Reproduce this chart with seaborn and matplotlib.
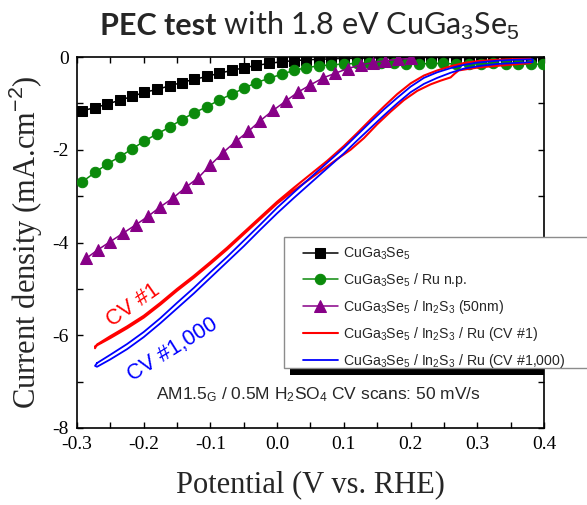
import matplotlib
matplotlib.use("Agg")
import matplotlib.pyplot as plt
import seaborn as sns
from matplotlib.patches import Rectangle
from matplotlib.ticker import MultipleLocator

# ---- data (current density in mA/cm^2 vs potential in V vs. RHE) ----
potential = [-0.292, -0.273, -0.255, -0.236, -0.217, -0.199, -0.180, -0.161,
             -0.143, -0.124, -0.105, -0.087, -0.068, -0.049, -0.031, -0.012,
             0.007, 0.025, 0.044, 0.063, 0.081, 0.100, 0.119, 0.137, 0.156,
             0.175, 0.193, 0.212, 0.231, 0.249, 0.268, 0.287, 0.305, 0.324,
             0.343, 0.361, 0.380, 0.399]
bare = [-1.16, -1.09, -1.02, -0.93, -0.85, -0.76, -0.70, -0.62, -0.55, -0.48,
        -0.42, -0.35, -0.29, -0.23, -0.18, -0.14, -0.10, -0.08, -0.06, -0.05,
        -0.04, -0.03, -0.03, -0.02, -0.02, -0.02, -0.01, -0.01, -0.01, -0.01,
        -0.01, -0.01, -0.01, -0.01, -0.01, -0.01, -0.01, -0.01]
ru_np = [-2.69, -2.49, -2.31, -2.15, -1.98, -1.81, -1.66, -1.51, -1.35, -1.20,
         -1.07, -0.93, -0.80, -0.67, -0.55, -0.46, -0.37, -0.29, -0.23, -0.19,
         -0.17, -0.15, -0.14, -0.14, -0.14, -0.14, -0.15, -0.15, -0.14, -0.14,
         -0.15, -0.15, -0.15, -0.14, -0.15, -0.15, -0.16, -0.15]

ins_potential = [-0.286, -0.269, -0.250, -0.231, -0.212, -0.193, -0.175,
                 -0.156, -0.137, -0.118, -0.100, -0.081, -0.062, -0.043,
                 -0.025, -0.006, 0.013, 0.031, 0.050, 0.069, 0.087, 0.106,
                 0.125, 0.144, 0.162, 0.181, 0.200]
ins = [-4.34, -4.16, -3.98, -3.80, -3.62, -3.43, -3.23, -3.04, -2.81, -2.60,
       -2.33, -2.06, -1.82, -1.60, -1.37, -1.15, -0.95, -0.76, -0.60, -0.45,
       -0.35, -0.25, -0.17, -0.12, -0.08, -0.05, -0.03]

# cyclic voltammograms: anodic branch followed by the return branch
cv1_potential = [-0.273, -0.270, -0.250, -0.225, -0.200, -0.175, -0.150,
                 -0.125, -0.100, -0.075, -0.050, -0.025, 0.000, 0.025, 0.050,
                 0.075, 0.100, 0.120, 0.140, 0.160, 0.180, 0.200, 0.220,
                 0.240, 0.260, 0.280, 0.300, 0.330, 0.355, 0.380,
                 0.380, 0.355, 0.330, 0.305, 0.285, 0.272, 0.266, 0.260,
                 0.245, 0.230, 0.210, 0.190, 0.170, 0.150, 0.130, 0.110,
                 0.090, 0.075, 0.050, 0.025, 0.000, -0.025, -0.050, -0.075,
                 -0.100, -0.125, -0.150, -0.175, -0.200, -0.225, -0.250,
                 -0.273]
cv1_current = [-6.28, -6.20, -6.02, -5.81, -5.58, -5.30, -5.00,
               -4.72, -4.42, -4.11, -3.78, -3.45, -3.12, -2.82, -2.53,
               -2.24, -1.92, -1.64, -1.35, -1.07, -0.80, -0.57, -0.40,
               -0.29, -0.20, -0.13, -0.09, -0.06, -0.045, -0.04,
               -0.13, -0.16, -0.19, -0.22, -0.26, -0.29, -0.36, -0.44,
               -0.51, -0.59, -0.73, -0.93, -1.18, -1.45, -1.75, -2.00,
               -2.20, -2.36, -2.62, -2.88, -3.16, -3.49, -3.82, -4.15,
               -4.46, -4.76, -5.04, -5.34, -5.62, -5.85, -6.06,
               -6.24]

cv1000_potential = [-0.270, -0.250, -0.225, -0.200, -0.175, -0.150, -0.125,
                    -0.100, -0.075, -0.050, -0.025, 0.000, 0.025, 0.050,
                    0.075, 0.100, 0.120, 0.140, 0.160, 0.180, 0.200, 0.220,
                    0.240, 0.260, 0.280, 0.300, 0.330, 0.355, 0.383,
                    0.383, 0.355, 0.330, 0.305, 0.280, 0.260, 0.240, 0.220,
                    0.200, 0.180, 0.160, 0.140, 0.120, 0.100, 0.075, 0.050,
                    0.025, 0.000, -0.025, -0.050, -0.075, -0.100, -0.125,
                    -0.150, -0.175, -0.200, -0.225, -0.250, -0.270, -0.273,
                    -0.270]
cv1000_current = [-6.60, -6.42, -6.19, -5.93, -5.63, -5.30, -4.98,
                  -4.64, -4.31, -3.96, -3.61, -3.25, -2.92, -2.60,
                  -2.28, -1.96, -1.68, -1.40, -1.13, -0.88, -0.64, -0.45,
                  -0.33, -0.24, -0.17, -0.12, -0.08, -0.06, -0.05,
                  -0.11, -0.13, -0.15, -0.19, -0.25, -0.34, -0.45, -0.58,
                  -0.76, -1.00, -1.26, -1.53, -1.80, -2.08, -2.40, -2.72,
                  -3.04, -3.37, -3.72, -4.08, -4.42, -4.76, -5.10,
                  -5.42, -5.74, -6.04, -6.30, -6.52, -6.68, -6.66,
                  -6.60]

labels = ["CuGa$_3$Se$_5$",
          "CuGa$_3$Se$_5$ / Ru n.p.",
          "CuGa$_3$Se$_5$ / In$_2$S$_3$ (50nm)",
          "CuGa$_3$Se$_5$ / In$_2$S$_3$ / Ru (CV #1)",
          "CuGa$_3$Se$_5$ / In$_2$S$_3$ / Ru (CV #1,000)"]

# ---- style ----
sns.set_style("ticks")
plt.rcParams["font.family"] = ["Liberation Serif", "DejaVu Serif"]
plt.rcParams["mathtext.fontset"] = "custom"
plt.rcParams["mathtext.rm"] = "Liberation Sans"
plt.rcParams["mathtext.it"] = "Liberation Sans:italic"
plt.rcParams["mathtext.bf"] = "Liberation Sans:bold"
plt.rcParams["axes.unicode_minus"] = False

W, H = 587, 505
fig = plt.figure(figsize=(W / 100, H / 100), dpi=100)
ax = fig.add_axes([77 / W, 1 - 428 / H, (544 - 77) / W, (428 - 57) / H])

sns.lineplot(x=potential, y=bare, ax=ax, color="black", linewidth=1.1,
             marker="s", markersize=6.5, markeredgecolor="black",
             label=labels[0], zorder=3)
sns.lineplot(x=potential, y=ru_np, ax=ax, color="#0b8a0b", linewidth=1.1,
             marker="o", markersize=7.5, markeredgecolor="#0b8a0b",
             label=labels[1], zorder=3)
sns.lineplot(x=ins_potential, y=ins, ax=ax, color="#870087", linewidth=1.1,
             marker="^", markersize=8.5, markeredgecolor="#870087",
             label=labels[2], zorder=3)
sns.lineplot(x=cv1_potential, y=cv1_current, ax=ax, sort=False, estimator=None,
             color="#ff0000", linewidth=1.5, label=labels[3], zorder=3)
sns.lineplot(x=cv1000_potential, y=cv1000_current, ax=ax, sort=False,
             estimator=None, color="#0000ff", linewidth=1.3, label=labels[4],
             zorder=3)

ax.set_xlim(-0.3, 0.4)
ax.set_ylim(-8, 0)
ax.xaxis.set_major_locator(MultipleLocator(0.1))
ax.xaxis.set_minor_locator(MultipleLocator(0.05))
ax.yaxis.set_major_locator(MultipleLocator(2))
ax.yaxis.set_minor_locator(MultipleLocator(1))
ax.xaxis.set_major_formatter(plt.FuncFormatter(lambda v, p: f"{v:.1f}"))
ax.yaxis.set_major_formatter(plt.FuncFormatter(lambda v, p: f"{v:.0f}"))
ax.tick_params(which="both", direction="in", top=True, right=True,
               length=4.5, width=1.0, color="black")
ax.tick_params(which="major", labelsize=14, pad=6, labelcolor="black")
for s in ax.spines.values():
    s.set_linewidth(1.2)
    s.set_color("black")

ax.set_xlabel("Potential (V vs. RHE)", fontsize=22, labelpad=12)
ax.set_ylabel("Current density (mA.cm$^{-2}$)", fontsize=22, labelpad=5)

# curve annotations
ax.text(-0.216, -5.35, "CV #1", color="#ff0000", fontsize=15.5, rotation=35,
        ha="center", va="center", family="Liberation Sans")
ax.text(-0.156, -6.32, "CV #1,000", color="#0000ff", fontsize=15.5,
        rotation=32, ha="center", va="center", family="Liberation Sans")
ax.text(0.061, -7.29,
        "AM1.5$_\\mathrm{G}$ / 0.5M H$_2$SO$_4$ CV scans: 50 mV/s",
        fontsize=12.5, ha="center", va="center", family="Liberation Sans")

# legend box with a drop shadow along its lower edge
x0 = (284 - 77) / 467
yb = (428 - 368) / 371
yt = (428 - 237) / 371
ax.add_patch(Rectangle((x0 + 6 / 467, yb - 7 / 371), 1.0, yt - yb,
                       transform=ax.transAxes, facecolor="black",
                       edgecolor="none", zorder=4.4, clip_on=True))
ax.add_patch(Rectangle((x0, yb), (600 - 284) / 467, yt - yb,
                       transform=ax.transAxes, facecolor="white",
                       edgecolor="#8c8c8c", linewidth=1.0, zorder=4.5,
                       clip_on=False))
handles, labs = ax.get_legend_handles_labels()
leg = ax.legend(handles, labs, loc="upper left", frameon=False,
                bbox_to_anchor=(303 / W, 1 - 246 / H),
                bbox_transform=fig.transFigure, borderpad=0, borderaxespad=0,
                handlelength=2.45, handletextpad=0.35, labelspacing=0.62,
                prop={"family": "Liberation Sans", "size": 10.2})
leg.set_zorder(5)

# title: bold lead-in followed by regular text
fig.canvas.draw()
r = fig.canvas.get_renderer()
tfont = ["Lato", "DejaVu Sans"]
t1 = fig.text(0, 1 - 35 / H, "PEC test", fontsize=22, weight="bold",
              family=tfont, va="baseline", ha="left")
t2 = fig.text(0, 1 - 35 / H, " with 1.8 eV CuGa$_3$Se$_5$", fontsize=22,
              family=tfont, va="baseline", ha="left")
w1 = t1.get_window_extent(r).width
w2 = t2.get_window_extent(r).width
start = 310 - (w1 + w2) / 2
t1.set_x(start / W)
t2.set_x((start + w1) / W)

fig.savefig("out.png", dpi=100)
